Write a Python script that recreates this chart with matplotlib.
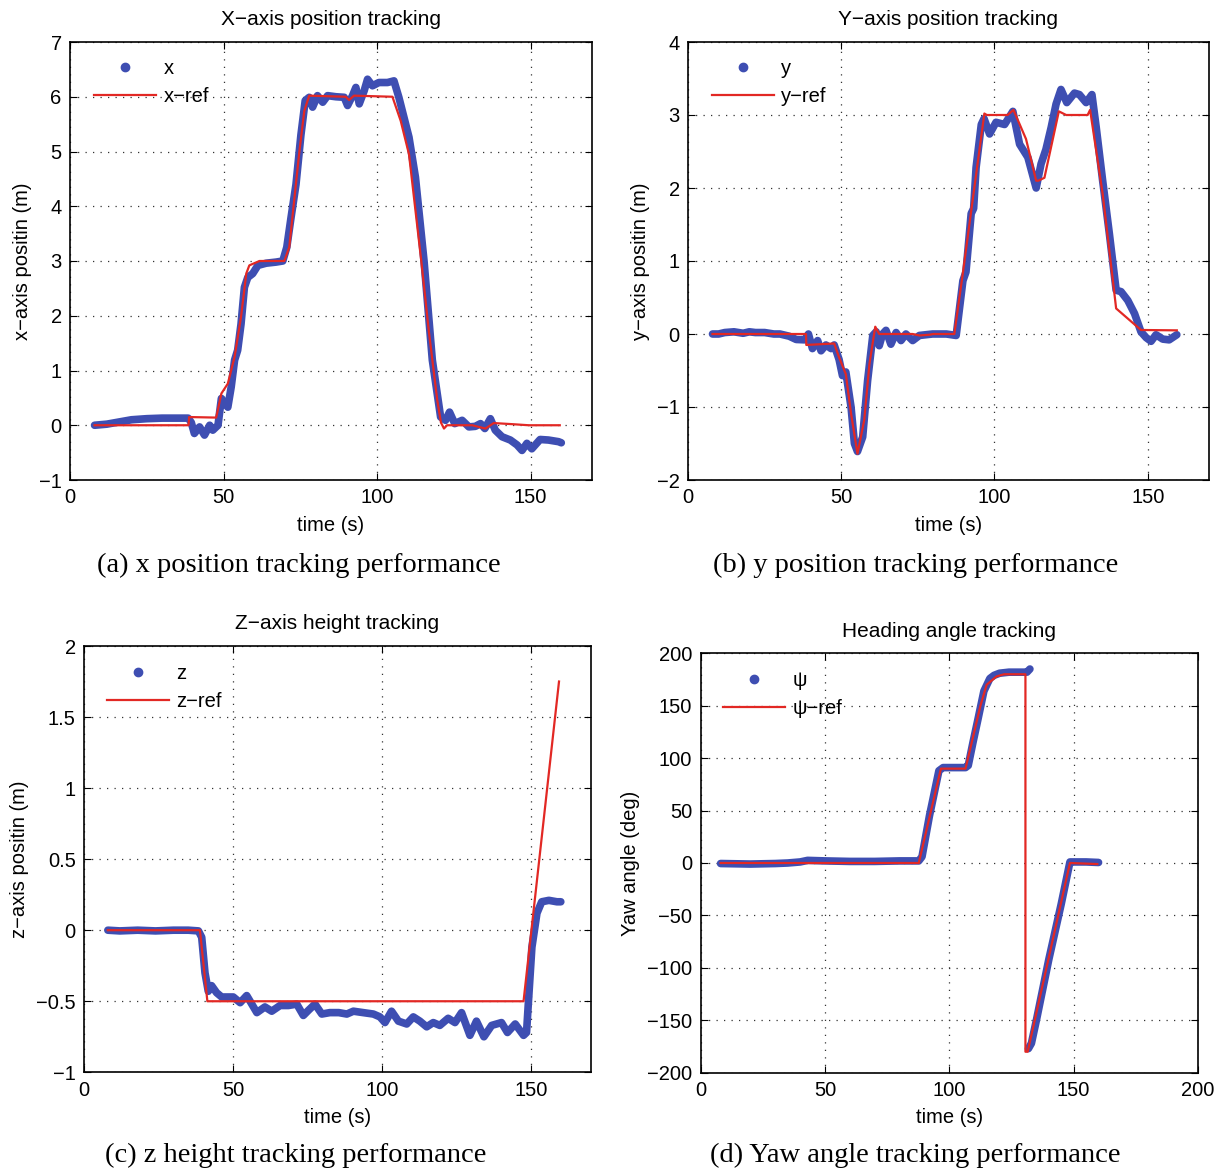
import numpy as np
import matplotlib
matplotlib.use('Agg')
import matplotlib.pyplot as plt
from matplotlib.lines import Line2D
from matplotlib.ticker import FuncFormatter

plt.rcParams['font.family'] = ['Liberation Sans', 'DejaVu Sans']

# --- (a) x position ---
t_x = [8, 12, 16, 20, 25, 30, 35, 38.5, 39.5, 40.5, 42.2, 43.8, 45.5, 46.5, 48.2, 49.3, 50.3, 51.4,
       52.5, 53.6, 54.6, 55.7, 56.8, 57.9, 59.5, 61.2, 63.9, 67.1, 69.3, 70.6, 72.0, 73.6, 75.2, 76.6,
       77.9, 79.0, 80.6, 82.3, 83.9, 86.6, 89.3, 90.4, 92.0, 93.1, 94.2, 95.8, 96.9, 98.5, 100.6, 103.4,
       105.5, 107.1, 110.4, 112.5, 115.3, 118.0, 120.7, 122.3, 123.6, 125.3, 127.7, 129.9, 132.0, 133.7,
       135.1, 136.9, 138.5, 140.7, 143.4, 145.6, 147.2, 148.8, 150.4, 153.1, 155.8, 159.1, 160]
x_meas = [0.0, 0.02, 0.06, 0.10, 0.12, 0.13, 0.13, 0.13, 0.05, -0.15, -0.03, -0.18, 0.0, -0.09, 0.0, 0.49,
          0.40, 0.33, 0.70, 1.19, 1.37, 1.85, 2.52, 2.70, 2.77, 2.92, 2.96, 2.98, 3.0, 3.25, 3.8, 4.4, 5.3,
          5.93, 5.99, 5.81, 6.02, 5.9, 6.02, 6.0, 5.99, 5.84, 6.02, 6.17, 5.87, 6.11, 6.32, 6.2, 6.26, 6.26,
          6.29, 5.99, 5.26, 4.53, 3.0, 1.19, 0.15, 0.09, 0.24, 0.03, 0.09, -0.03, -0.02, 0.03, -0.06, 0.12,
          -0.09, -0.21, -0.27, -0.36, -0.46, -0.33, -0.43, -0.26, -0.27, -0.30, -0.32]
t_xr = [8, 38.6, 38.8, 47.6, 49.3, 51.4, 53.6, 55.7, 57.4, 58.4, 61.7, 69.8, 71.4, 73.0, 74.7, 76.3, 77.9,
        89.8, 90.9, 92.5, 105.0, 107.7, 110.4, 114.4, 116.9, 119.6, 120.8, 121.8, 122.8, 131.0, 133.1,
        135.3, 138.0, 144.0, 149.4, 159.5]
x_ref = [0, 0, 0.15, 0.14, 0.58, 0.76, 1.25, 1.98, 2.77, 2.92, 3.0, 3.0, 3.25, 4.1, 5.0, 5.74, 6.02, 6.0,
         5.94, 6.02, 6.0, 5.56, 4.95, 3.0, 1.7, 0.46, 0.05, -0.06, 0.0, 0.0, -0.03, -0.06, 0.04, 0.02, 0.0, 0.0]

# --- (b) y position ---
t_y = [8, 10, 12, 15, 18, 20, 22, 25, 28, 30, 33, 35.3, 38, 39.3, 40.6, 42.3, 43.4, 45, 46.7, 47.7, 49.3,
       50.4, 51.5, 53.2, 54.3, 55.3, 57.0, 58.6, 60.3, 61.4, 62.4, 63.5, 64.6, 66.2, 67.9, 69.5, 71.1,
       73.3, 75.5, 79.8, 84.3, 87.5, 89.7, 90.7, 92.4, 93.2, 94.0, 95.7, 96.6, 98.4, 100.5, 103.3, 106.0,
       108.2, 110.9, 113.6, 115.2, 116.8, 118.5, 120.1, 121.7, 123.6, 126.1, 127.7, 129.9, 131.8, 133.2,
       135.3, 137.5, 139.7, 141.3, 143.5, 145.7, 147.8, 149.5, 151.1, 152.7, 154.9, 157.0, 159.5]
y_meas = [0.0, 0.0, 0.02, 0.03, 0.01, 0.03, 0.02, 0.02, 0.0, 0.0, -0.03, -0.075, -0.08, 0.0, -0.2, -0.09,
          -0.23, -0.15, -0.2, -0.15, -0.35, -0.57, -0.52, -1.0, -1.5, -1.61, -1.41, -0.64, -0.02, 0.03,
          -0.16, 0.0, 0.05, -0.14, 0.02, -0.09, 0.0, -0.09, -0.02, 0.0, 0.0, -0.02, 0.73, 0.85, 1.65, 1.72,
          2.28, 2.87, 2.95, 2.74, 2.9, 2.87, 3.05, 2.6, 2.42, 2.0, 2.33, 2.53, 2.83, 3.15, 3.35, 3.17, 3.3,
          3.28, 3.17, 3.28, 2.83, 2.1, 1.37, 0.6, 0.58, 0.46, 0.28, 0.03, -0.05, -0.1, -0.01, -0.07, -0.08,
          -0.01]
t_yr = [8, 38.5, 38.6, 47.7, 49.3, 51.5, 53.2, 55.3, 57.5, 59.2, 61.1, 62.4, 73.3, 75.5, 78.8, 80, 86.9,
        89.7, 93.0, 96.7, 97.5, 104.3, 106.2, 110.3, 113.6, 114.3, 116.3, 121.0, 123.4, 130.4, 131.2,
        135.3, 139.7, 147.8, 159.5]
y_ref = [0, 0, -0.15, -0.13, -0.32, -0.55, -1.09, -1.64, -1.18, -0.41, 0.10, 0.0, 0.0, -0.02, -0.01, 0.0,
         0.0, 0.84, 1.87, 3.02, 3.0, 3.0, 3.07, 2.67, 2.1, 2.1, 2.14, 3.05, 3.0, 3.0, 3.07, 1.92, 0.35,
         0.055, 0.05]

# --- (c) z height ---
t_z = [8, 12, 18, 24, 30, 35, 38.4, 39.5, 40.6, 41.7, 42.8, 44.5, 46.2, 48, 50.1, 52.4, 54.6, 56.3, 58,
       60.7, 63, 65.8, 68.6, 71.4, 73.6, 75.5, 77.5, 79.8, 82.5, 85.5, 88.2, 90.4, 93.7, 97.1, 99.3, 101,
       103.2, 105.5, 108.3, 110.5, 112.7, 115, 117.2, 119.4, 122.2, 124.5, 126.7, 129.5, 131.7, 134.2,
       136.8, 140.1, 142.1, 144.7, 147.5, 148.5, 149.3, 150.3, 152, 153.6, 156, 158.7, 160]
z_meas = [0.0, -0.005, 0.0, -0.005, 0.0, 0.0, -0.005, -0.05, -0.3, -0.43, -0.39, -0.44, -0.47, -0.47,
          -0.47, -0.51, -0.46, -0.52, -0.58, -0.54, -0.57, -0.53, -0.53, -0.52, -0.6, -0.56, -0.52, -0.59,
          -0.58, -0.58, -0.59, -0.57, -0.58, -0.59, -0.61, -0.65, -0.57, -0.64, -0.66, -0.61, -0.64, -0.68,
          -0.65, -0.67, -0.62, -0.65, -0.58, -0.74, -0.64, -0.75, -0.67, -0.65, -0.72, -0.66, -0.74, -0.72,
          -0.45, -0.12, 0.12, 0.2, 0.21, 0.2, 0.2]
t_zr = [8, 38.9, 41.4, 147.5, 159.4]
z_ref = [0, 0, -0.5, -0.5, 1.75]

# --- (d) yaw ---
t_psi = [8, 20, 30, 35, 40, 43, 50, 60, 70, 80, 87.7, 89, 92, 95.8, 97.5, 100, 103, 106.5, 107.6, 109.5,
         111.5, 113.9, 116.3, 118, 120.2, 124, 129.6, 131.2, 132.4, 131.6, 131.8, 133, 135, 140, 145, 148.5,
         150, 155, 160]
psi = [-0.5, -1, -0.5, 0, 1, 2.5, 2, 1.5, 1.5, 2, 2, 6, 45, 88, 91, 91, 91, 91, 93, 115, 137, 164, 176,
       179, 181, 182, 182, 182, 185, np.nan, -177, -172, -150, -92, -39, 1, 1, 1, 0.5]
t_psir = [8, 87.7, 96.6, 98, 106.5, 109.5, 112.5, 115, 119, 122, 130.6, 130.6, 131.5, 148.5, 159.5]
psi_ref = [0, 0, 90, 90, 90, 120, 150, 170, 178, 180, 180, -180, -180, 0, -1]

blue = '#3E4EB2'
red = '#E22824'
W, H = 1226, 1169

fig = plt.figure(figsize=(W / 100, H / 100), dpi=100)

panels = [
    dict(rect=[70, 42, 592, 480], t=t_x, v=x_meas, tr=t_xr, vr=x_ref, lab='x',
         xlim=(0, 170), ylim=(-1, 7), xt=[0, 50, 100, 150], yt=range(-1, 8),
         title='X\u2212axis position tracking', ylabel='x\u2212axis positin (m)', leg=(94, 59),
         cap='(a) x position tracking performance', cx=299, cy=565),
    dict(rect=[688, 42, 1209, 480], t=t_y, v=y_meas, tr=t_yr, vr=y_ref, lab='y',
         xlim=(0, 170), ylim=(-2, 4), xt=[0, 50, 100, 150], yt=range(-2, 5),
         title='Y\u2212axis position tracking', ylabel='y\u2212axis positin (m)', leg=(712, 59),
         cap='(b) y position tracking performance', cx=916, cy=565),
    dict(rect=[84, 646, 590.6, 1072.3], t=t_z, v=z_meas, tr=t_zr, vr=z_ref, lab='z',
         xlim=(0, 170), ylim=(-1, 2), xt=[0, 50, 100, 150], yt=[-1, -0.5, 0, 0.5, 1, 1.5, 2],
         title='Z\u2212axis height tracking', ylabel='z\u2212axis positin (m)', leg=(107, 664),
         cap='(c) z height tracking performance', cx=296, cy=1155),
    dict(rect=[700.7, 653.3, 1198, 1072.7], t=t_psi, v=psi, tr=t_psir, vr=psi_ref, lab='\u03c8',
         xlim=(0, 200), ylim=(-200, 200), xt=[0, 50, 100, 150, 200], yt=range(-200, 201, 50),
         title='Heading angle tracking', ylabel='Yaw angle (deg)', leg=(723, 671),
         cap='(d) Yaw angle tracking performance', cx=915, cy=1155),
]

fmt = FuncFormatter(lambda v, p: ('%g' % v).replace('-', '\u2212'))

for p in panels:
    x0, y0, x1, y1 = p['rect']
    ax = fig.add_axes([x0 / W, 1 - y1 / H, (x1 - x0) / W, (y1 - y0) / H])
    ax.plot(p['t'], p['v'], color=blue, lw=5.5, solid_capstyle='round', solid_joinstyle='round', zorder=2)
    ax.plot(p['tr'], p['vr'], color=red, lw=1.6, zorder=3)
    ax.set_xlim(*p['xlim'])
    ax.set_ylim(*p['ylim'])
    ax.set_xticks(p['xt'])
    ax.set_yticks(list(p['yt']))
    ax.xaxis.set_major_formatter(fmt)
    ax.yaxis.set_major_formatter(fmt)
    ax.grid(True, color='#333333', lw=0.9, linestyle=(0, (1, 5)))
    ax.tick_params(direction='in', top=True, right=True, length=5, width=0.8, labelsize=14.5, pad=6)
    for s in ax.spines.values():
        s.set_linewidth(1.2)
    ax.set_title(p['title'], fontsize=15, pad=12)
    ax.set_xlabel('time (s)', fontsize=14.5, labelpad=6)
    ax.set_ylabel(p['ylabel'], fontsize=14.5, labelpad=5)
    handles = [Line2D([], [], color=blue, marker='o', ls='none', ms=6),
               Line2D([], [], color=red, lw=1.6)]
    lx, ly = p['leg']
    ax.legend(handles, [p['lab'], p['lab'] + '\u2212ref'], loc='upper left',
              bbox_to_anchor=(lx / W, 1 - ly / H), bbox_transform=fig.transFigure,
              frameon=False, fontsize=14.5, borderpad=0, borderaxespad=0,
              handlelength=3.1, handletextpad=0.35, labelspacing=0.45, numpoints=1)
    fig.text(p['cx'] / W, 1 - p['cy'] / H, p['cap'], ha='center', va='center',
             fontsize=20.5, family=['Liberation Serif', 'DejaVu Serif'])

fig.savefig('out.png', dpi=100)
